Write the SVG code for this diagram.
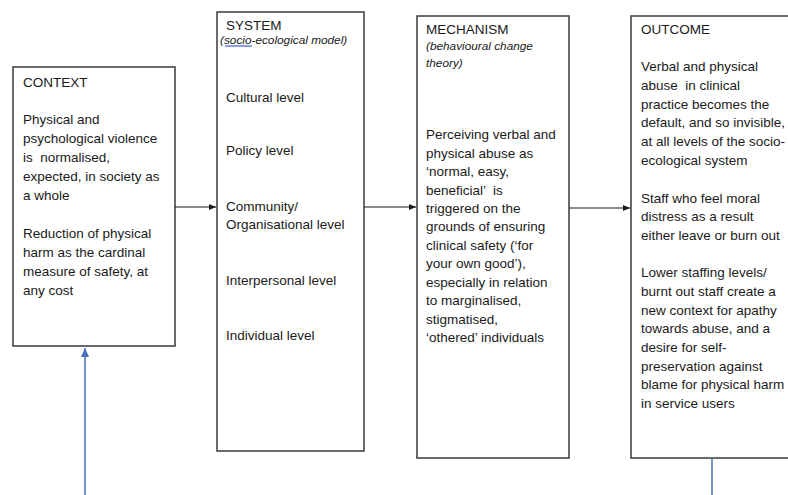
<svg xmlns="http://www.w3.org/2000/svg" width="788" height="495" viewBox="0 0 788 495">
<style>
.box{fill:#fff;stroke:#3a3a3a;stroke-width:1.5}
text{font-family:"Liberation Sans",Arial,sans-serif;font-size:13.5px;fill:#1a1a1a}
.it{font-style:italic;font-size:11.8px}
.con{stroke:#1a1a1a;stroke-width:1.2;fill:none}
.blue{stroke:#4a6fbf;stroke-width:1.5;fill:none}
</style>
<defs>
<marker id="ah" markerWidth="8" markerHeight="8" refX="7" refY="4" orient="auto" markerUnits="userSpaceOnUse">
<path d="M0,1 L7,4 L0,7 Z" fill="#1a1a1a"/>
</marker>
<marker id="bh" markerWidth="10" markerHeight="10" refX="9" refY="5" orient="auto" markerUnits="userSpaceOnUse">
<path d="M0,1 L9,5 L0,9 Z" fill="#4a6fbf"/>
</marker>
</defs>
<g id="context">
<rect class="box" x="13" y="67" width="162" height="279"/>
<text x="23" y="87">CONTEXT</text>
<text x="23" y="124">Physical and</text>
<text x="23" y="143">psychological violence</text>
<text x="23" y="162" xml:space="preserve">is  normalised,</text>
<text x="23" y="181">expected, in society as</text>
<text x="23" y="200">a whole</text>
<text x="23" y="238">Reduction of physical</text>
<text x="23" y="257">harm as the cardinal</text>
<text x="23" y="276">measure of safety, at</text>
<text x="23" y="295">any cost</text>
</g>
<g id="system">
<rect class="box" x="217" y="12" width="147" height="439"/>
<text x="226" y="30">SYSTEM</text>
<text class="it" x="220" y="44">(socio-ecological model)</text>
<line x1="225" y1="46" x2="252" y2="46" stroke="#3d5fc4" stroke-width="1.2"/>
<text x="226" y="102">Cultural level</text>
<text x="226" y="155">Policy level</text>
<text x="226" y="211">Community/</text>
<text x="226" y="229">Organisational level</text>
<text x="226" y="285">Interpersonal level</text>
<text x="226" y="340">Individual level</text>
</g>
<g id="mechanism">
<rect class="box" x="417" y="16" width="152" height="442"/>
<text x="426" y="34">MECHANISM</text>
<text class="it" x="426" y="50">(behavioural change</text>
<text class="it" x="426" y="67">theory)</text>
<text x="426" y="139">Perceiving verbal and</text>
<text x="426" y="158">physical abuse as</text>
<text x="426" y="176">‘normal, easy,</text>
<text x="426" y="195" xml:space="preserve">beneficial’  is</text>
<text x="426" y="213">triggered on the</text>
<text x="426" y="231">grounds of ensuring</text>
<text x="426" y="250">clinical safety (‘for</text>
<text x="426" y="268">your own good’),</text>
<text x="426" y="287">especially in relation</text>
<text x="426" y="305">to marginalised,</text>
<text x="426" y="324">stigmatised,</text>
<text x="426" y="342">‘othered’ individuals</text>
</g>
<g id="outcome">
<rect class="box" x="631" y="16" width="170" height="442"/>
<text x="641" y="34">OUTCOME</text>
<text x="641" y="71">Verbal and physical</text>
<text x="641" y="90" xml:space="preserve">abuse  in clinical</text>
<text x="641" y="109">practice becomes the</text>
<text x="641" y="127">default, and so invisible,</text>
<text x="641" y="146">at all levels of the socio-</text>
<text x="641" y="165">ecological system</text>
<text x="641" y="203">Staff who feel moral</text>
<text x="641" y="221">distress as a result</text>
<text x="641" y="240">either leave or burn out</text>
<text x="641" y="277">Lower staffing levels/</text>
<text x="641" y="296">burnt out staff create a</text>
<text x="641" y="315">new context for apathy</text>
<text x="641" y="333">towards abuse, and a</text>
<text x="641" y="352">desire for self-</text>
<text x="641" y="371">preservation against</text>
<text x="641" y="389">blame for physical harm</text>
<text x="641" y="408">in service users</text>
</g>
<g id="connectors">
<line class="con" x1="175" y1="207" x2="216" y2="207" marker-end="url(#ah)"/>
<line class="con" x1="364" y1="207" x2="416" y2="207" marker-end="url(#ah)"/>
<line class="con" x1="569" y1="208" x2="630" y2="208" marker-end="url(#ah)"/>
<line class="blue" x1="85" y1="495" x2="85" y2="348" marker-end="url(#bh)"/>
<line class="blue" x1="712" y1="459" x2="712" y2="495"/>
</g>
</svg>
